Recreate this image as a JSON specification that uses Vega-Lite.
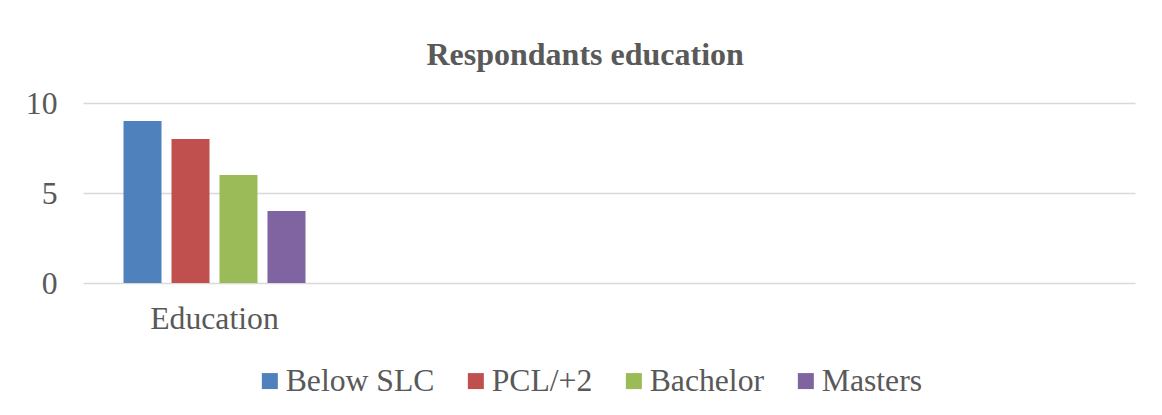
{
  "$schema": "https://vega.github.io/schema/vega-lite/v6.json",
  "autosize": {"type": "none"},
  "width": 1052,
  "height": 180,
  "padding": {"left": 83, "top": 103, "right": 27, "bottom": 132},
  "background": "white",
  "title": {
    "text": "Respondants education",
    "font": "Liberation Serif",
    "fontSize": 32,
    "fontWeight": "bold",
    "color": "#595959",
    "anchor": "middle",
    "frame": "bounds",
    "offset": 16,
    "dx": 5
  },
  "data": {
    "values": [
      {"group": "Education", "level": "Below SLC", "count": 9},
      {"group": "Education", "level": "PCL/+2", "count": 8},
      {"group": "Education", "level": "Bachelor", "count": 6},
      {"group": "Education", "level": "Masters", "count": 4}
    ]
  },
  "mark": {"type": "bar"},
  "encoding": {
    "x": {
      "field": "group",
      "type": "nominal",
      "scale": {"domain": ["Education", "g2", "g3", "g4"], "paddingInner": 0, "paddingOuter": 0},
      "axis": {
        "title": null,
        "labelAngle": 0,
        "domain": false,
        "ticks": false,
        "labelExpr": "datum.value == 'Education' ? datum.value : ''",
        "labelFont": "Liberation Serif",
        "labelFontSize": 31.7,
        "labelColor": "#595959",
        "labelPadding": 20
      }
    },
    "xOffset": {
      "field": "level",
      "type": "nominal",
      "sort": ["Below SLC", "PCL/+2", "Bachelor", "Masters"],
      "scale": {"paddingInner": 0.208, "paddingOuter": 0.844}
    },
    "y": {
      "field": "count",
      "type": "quantitative",
      "scale": {"domain": [0, 10], "nice": false},
      "axis": {
        "title": null,
        "values": [0, 5, 10],
        "domain": false,
        "ticks": false,
        "grid": true,
        "gridColor": "#d9d9d9",
        "gridWidth": 1.5,
        "labelFont": "Liberation Serif",
        "labelFontSize": 31.7,
        "labelColor": "#595959",
        "labelPadding": 26
      }
    },
    "color": {
      "field": "level",
      "type": "nominal",
      "sort": ["Below SLC", "PCL/+2", "Bachelor", "Masters"],
      "scale": {
        "domain": ["Below SLC", "PCL/+2", "Bachelor", "Masters"],
        "range": ["#4F81BD", "#C0504D", "#9BBB59", "#8064A2"]
      },
      "legend": {
        "title": null,
        "orient": "none",
        "legendX": 171,
        "legendY": 262,
        "direction": "horizontal",
        "symbolType": "square",
        "symbolSize": 256,
        "symbolStrokeWidth": 0,
        "labelFont": "Liberation Serif",
        "labelFontSize": 31.7,
        "labelColor": "#595959",
        "labelOffset": 0,
        "columnPadding": 25
      }
    }
  },
  "config": {"view": {"stroke": null}}
}
